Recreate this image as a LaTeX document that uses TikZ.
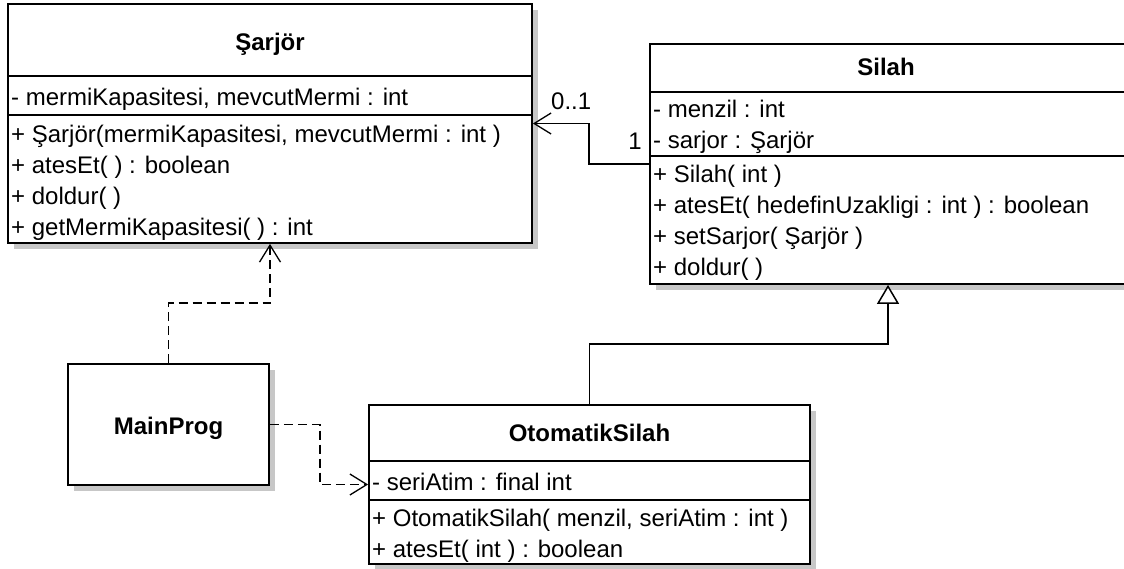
\documentclass[tikz,border=0pt]{standalone}
\usepackage{fontspec}
\setmainfont{Liberation Sans}
\usetikzlibrary{arrows.meta,shadows}
\begin{document}
\begin{tikzpicture}[x=1pt,y=-1pt,
  font=\fontsize{24}{28}\selectfont,
  classbox/.style={draw=black, line width=1.8pt, fill=white, inner sep=0pt, rectangle,
    drop shadow={shadow xshift=6pt, shadow yshift=-6pt, opacity=1, fill=black!22}},
  row/.style={anchor=base west, inner sep=0pt},
  ttl/.style={anchor=base, inner sep=0pt, font=\fontsize{24}{28}\selectfont\bfseries},
  lbl/.style={inner sep=0pt},
  sepline/.style={line width=1.8pt},
  conn/.style={line width=1.8pt},
  dep/.style={conn, dash pattern=on 9pt off 5pt, -{Straight Barb[length=17pt, width=21pt, line width=1.3pt]}},
  assoc/.style={conn, -{Straight Barb[length=17pt, width=21pt, line width=1.3pt]}},
  gen/.style={conn, -{Triangle[open, length=19pt, width=22pt, fill=white, line width=1.5pt]}},
]
\fill[white] (0,0) rectangle (1124,569);
\useasboundingbox (0,0) rectangle (1124,569);

% class boxes
\node[classbox, minimum width=524pt, minimum height=239pt] (sarjor) at (270,123.5) {};
\node[classbox, minimum width=476pt, minimum height=240pt] (silah) at (888,164) {};
\node[classbox, minimum width=201pt, minimum height=121pt] (mainprog) at (168.5,424.5) {};
\node[classbox, minimum width=441pt, minimum height=159pt] (oto) at (589.5,484.5) {};

% section lines
\draw[sepline] (sarjor.west |- 0,76) -- (sarjor.east |- 0,76);
\draw[sepline] (sarjor.west |- 0,115) -- (sarjor.east |- 0,115);
\draw[sepline] (silah.west |- 0,92) -- (silah.east |- 0,92);
\draw[sepline] (silah.west |- 0,156) -- (silah.east |- 0,156);
\draw[sepline] (oto.west |- 0,461) -- (oto.east |- 0,461);
\draw[sepline] (oto.west |- 0,500) -- (oto.east |- 0,500);

% Sarjor texts
\node[ttl] (sarjorT) at (270,51) {Şarjör};
\node[row] (sa1) at (11,106) {- mermiKapasitesi, mevcutMermi : int};
\node[row] (sm1) at (11,143) {+ Şarjör(mermiKapasitesi, mevcutMermi : int )};
\node[row] (sm2) at (11,174) {+ atesEt( ) : boolean};
\node[row] (sm3) at (11,205) {+ doldur( )};
\node[row] (sm4) at (11,236) {+ getMermiKapasitesi( ) : int};

% Silah texts
\node[ttl] (silahT) at (886,76) {Silah};
\node[row] (la1) at (653,118) {- menzil : int};
\node[row] (la2) at (653,149) {- sarjor : Şarjör};
\node[row] (lm1) at (653,183) {+ Silah( int )};
\node[row] (lm2) at (653,214) {+ atesEt( hedefinUzakligi : int ) : boolean};
\node[row] (lm3) at (653,245) {+ setSarjor( Şarjör )};
\node[row] (lm4) at (653,276) {+ doldur( )};

% MainProg text
\node[ttl] (mainT) at (168.5,434) {MainProg};

% OtomatikSilah texts
\node[ttl] (otoT) at (589.5,441) {OtomatikSilah};
\node[row] (oa1) at (372,490) {- seriAtim : final int};
\node[row] (om1) at (372,526) {+ OtomatikSilah( menzil, seriAtim : int )};
\node[row] (om2) at (372,557) {+ atesEt( int ) : boolean};

% connectors
\draw[dep] (mainprog.north) -- ++(0,-60) -| (sarjor.south);
\draw[dep] (mainprog.east) -- ++(50,0) |- (oto.west);
\draw[assoc] (silah.west) -- ++(-60,0) |- (sarjor.east);
\draw[gen] (oto.north) -- ++(0,-60) -| (silah.south);

% multiplicities
\node[lbl, anchor=base west] (m01) at (551,110) {0..1};
\node[lbl, anchor=base east] (m1) at (642,150) {1};
\end{tikzpicture}
\end{document}
